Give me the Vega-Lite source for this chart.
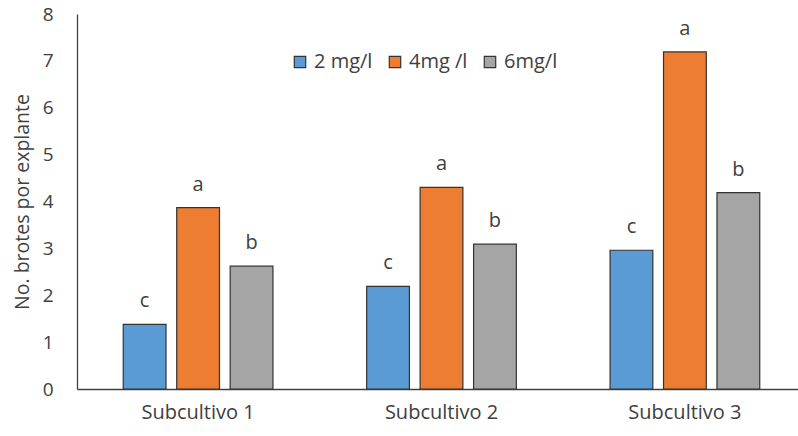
{
  "$schema": "https://vega.github.io/schema/vega-lite/v6.json",
  "autosize": "none",
  "padding": {"left": 77, "top": 14, "right": 0, "bottom": 47},
  "width": 729,
  "height": 375,
  "background": "white",
  "config": {"view": {"stroke": null}, "font": "Open Sans"},
  "data": {"values": [
    {"sub": "Subcultivo 1", "dose": "2 mg/l", "value": 1.38, "letter": "c"},
    {"sub": "Subcultivo 1", "dose": "4mg /l", "value": 3.87, "letter": "a"},
    {"sub": "Subcultivo 1", "dose": "6mg/l", "value": 2.62, "letter": "b"},
    {"sub": "Subcultivo 2", "dose": "2 mg/l", "value": 2.19, "letter": "c"},
    {"sub": "Subcultivo 2", "dose": "4mg /l", "value": 4.30, "letter": "a"},
    {"sub": "Subcultivo 2", "dose": "6mg/l", "value": 3.09, "letter": "b"},
    {"sub": "Subcultivo 3", "dose": "2 mg/l", "value": 2.96, "letter": "c"},
    {"sub": "Subcultivo 3", "dose": "4mg /l", "value": 7.19, "letter": "a"},
    {"sub": "Subcultivo 3", "dose": "6mg/l", "value": 4.19, "letter": "b"}
  ]},
  "encoding": {
    "x": {"field": "sub", "type": "nominal",
      "scale": {"paddingInner": 0.385, "paddingOuter": 0.19},
      "axis": {"title": null, "labelAngle": 0, "ticks": false, "domainColor": "#404040", "domainWidth": 1.3,
        "labelFontSize": 20, "labelColor": "#404040", "labelPadding": 13}},
    "xOffset": {"field": "dose", "type": "nominal", "scale": {"paddingInner": 0.2}},
    "y": {"field": "value", "type": "quantitative",
      "scale": {"domain": [0, 8]},
      "axis": {"title": "No. brotes por explante", "grid": false, "ticks": false, "tickCount": 8,
        "domainColor": "#404040", "domainWidth": 1.3, "labelFontSize": 19, "labelColor": "#404040",
        "labelPadding": 24, "titleFontSize": 19.5, "titleFontWeight": "normal", "titleColor": "#404040", "titlePadding": 10}}
  },
  "layer": [
    {
      "mark": {"type": "bar", "stroke": "#333333", "strokeWidth": 1.2},
      "encoding": {
        "color": {"field": "dose", "type": "nominal",
          "scale": {"domain": ["2 mg/l", "4mg /l", "6mg/l"], "range": ["#5B9BD5", "#ED7D31", "#A5A5A5"]},
          "legend": {"title": null, "orient": "none", "legendX": 213, "legendY": 38, "direction": "horizontal",
            "symbolType": "square", "symbolSize": 130, "symbolStrokeColor": "#333333", "symbolStrokeWidth": 1.2,
            "labelFontSize": 20, "labelColor": "#404040", "labelOffset": 4, "columnPadding": 12}}
      }
    },
    {
      "mark": {"type": "text", "baseline": "middle", "dy": -23, "fontSize": 20, "color": "#404040"},
      "encoding": {"text": {"field": "letter"}}
    }
  ]
}
